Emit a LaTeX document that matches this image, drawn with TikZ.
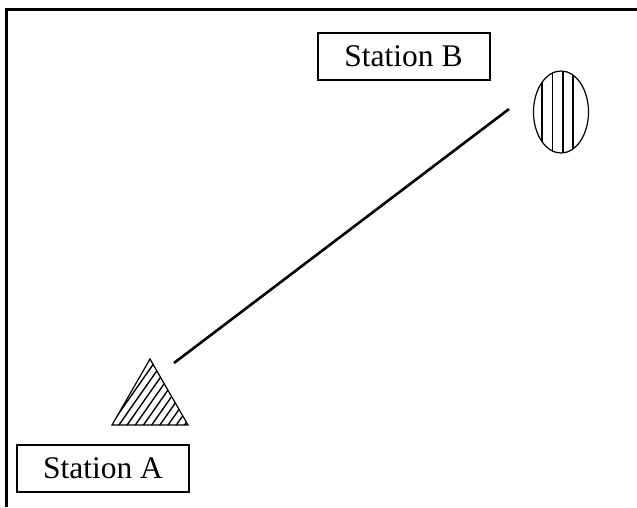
\documentclass[tikz,border=0pt]{standalone}
\usepackage{fontspec}
\setmainfont{Liberation Serif}
\usetikzlibrary{shapes.geometric}
\tikzset{
  frameline/.style={line width=2.2pt, black},
  stationbox/.style={draw, line width=2pt, minimum width=172pt, minimum height=47pt, inner sep=0pt, font=\fontsize{31.5}{37}\selectfont},
  hatchline/.style={line width=1.4pt},
  link/.style={line width=2.6pt}
}
\begin{document}
\begin{tikzpicture}[x=1pt,y=-1pt]
\useasboundingbox (0,0) rectangle (637,507);
% frame (left and top only)
\draw[frameline] (6.5,507) -- (6.5,9.5) -- (637,9.5);
% labels
\node[stationbox] (stB) at (403.5,56.5) {Station B};
\node[stationbox] (stA) at (103,468.5) {Station A};
% triangle (station A)
\coordinate (tL) at (112,425);
\coordinate (tR) at (188,425);
\coordinate (tT) at (150,359);
\begin{scope}
  \clip (tL) -- (tR) -- (tT) -- cycle;
  \foreach \i in {0,...,20} {
    \draw[hatchline] ({58+8.2*\i},430) -- ++({cos(55)*90},{-sin(55)*90});
  }
\end{scope}
\draw[line width=1.2pt] (tL) -- (tR) -- (tT) -- cycle;
% ellipse (station B)
\node[draw, ellipse, line width=1.2pt, minimum width=55pt, minimum height=82pt, inner sep=0pt] (ell) at (561,112) {};
\begin{scope}
  \clip (561,112) ellipse [x radius=27.5pt, y radius=41pt];
  \foreach \x in {542,552.5,563,573} {
    \draw[line width=1.6pt] (\x,60) -- (\x,165);
  }
\end{scope}
% connector
\coordinate (cA) at (174,363);
\coordinate (cB) at (509,109);
\draw[link] (cA) -- (cB);
\end{tikzpicture}
\end{document}
